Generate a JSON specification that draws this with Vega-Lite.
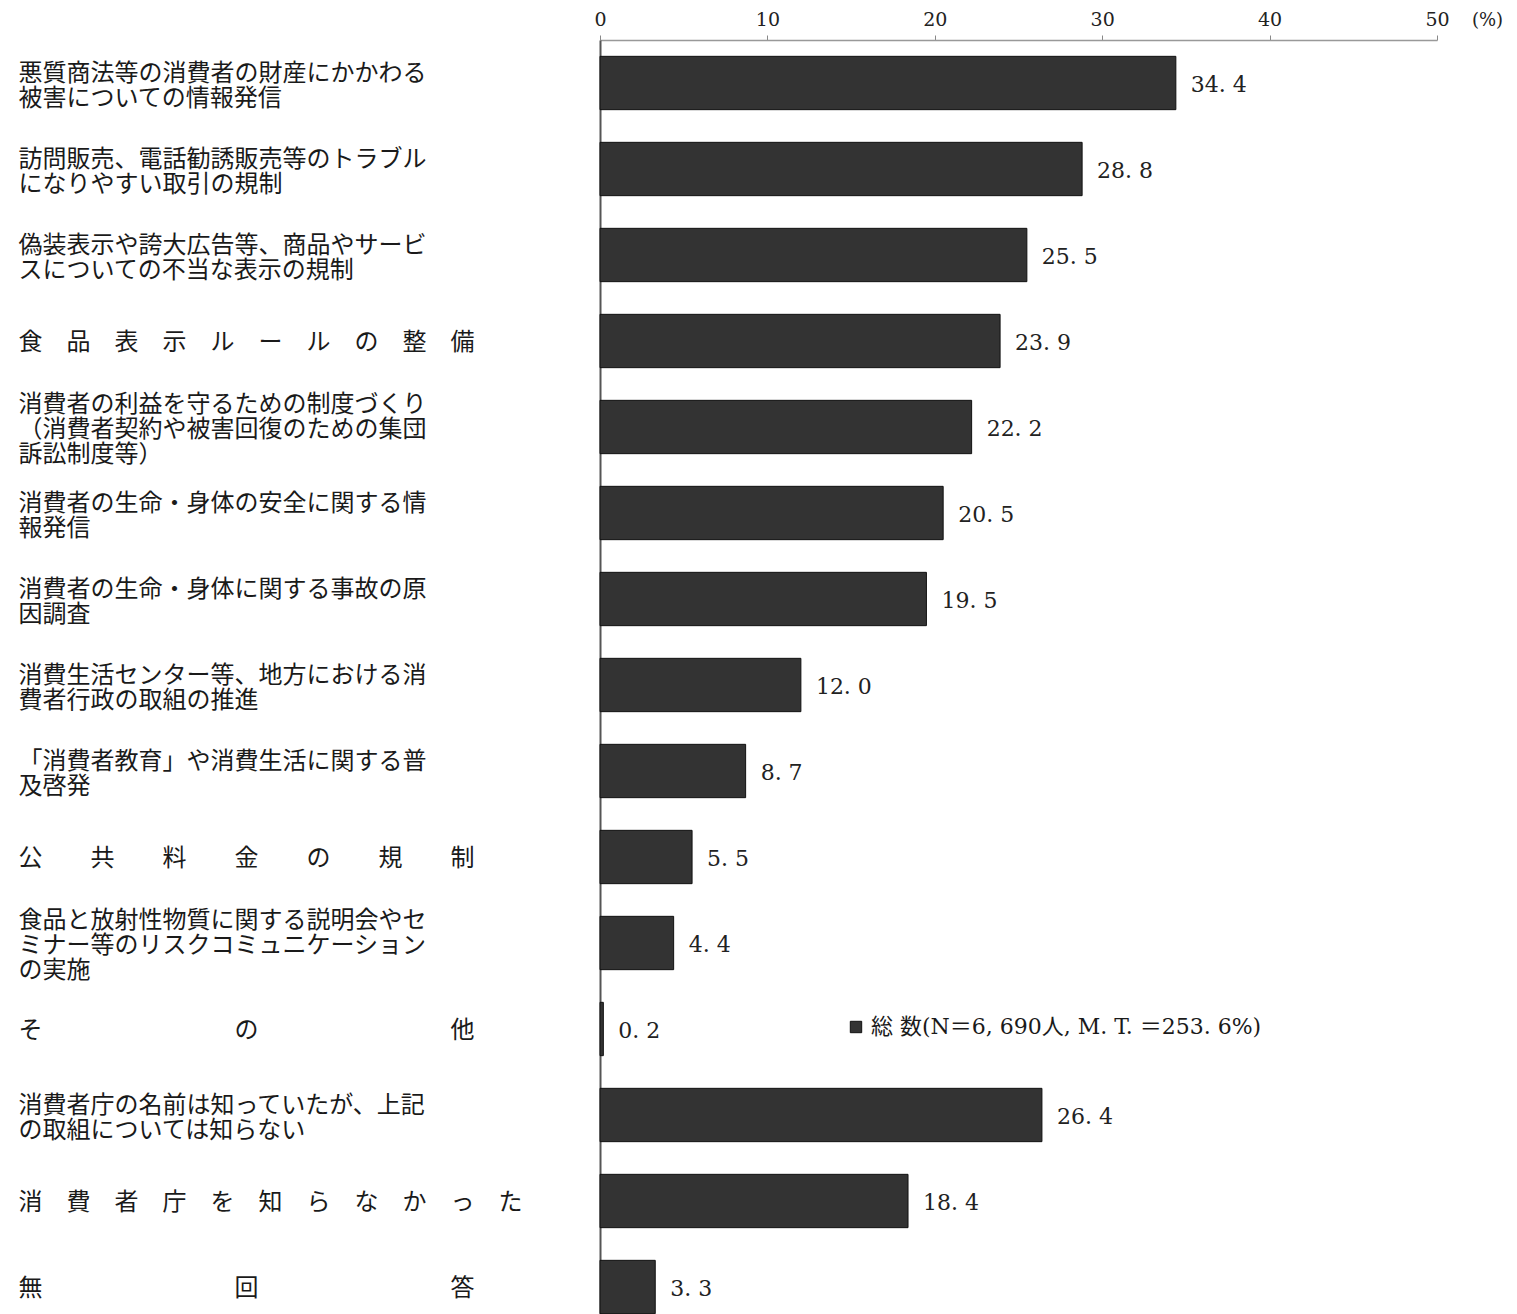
{
  "$schema": "https://vega.github.io/schema/vega-lite/v6.json",
  "autosize": {"type": "none"},
  "padding": {"left": 600, "top": 40, "right": 80, "bottom": 0},
  "width": 837,
  "height": 1290,
  "background": "#ffffff",
  "config": {"view": {"stroke": null}},
  "data": {
    "values": [
      {"item": "悪質商法等の消費者の財産にかかわる|被害についての情報発信", "value": 34.4, "label": "34. 4", "series": "総 数(N＝6, 690人, M. T. ＝253. 6%)"},
      {"item": "訪問販売、電話勧誘販売等のトラブル|になりやすい取引の規制", "value": 28.8, "label": "28. 8", "series": "総 数(N＝6, 690人, M. T. ＝253. 6%)"},
      {"item": "偽装表示や誇大広告等、商品やサービ|スについての不当な表示の規制", "value": 25.5, "label": "25. 5", "series": "総 数(N＝6, 690人, M. T. ＝253. 6%)"},
      {"item": "食　品　表　示　ル　ー　ル　の　整　備", "value": 23.9, "label": "23. 9", "series": "総 数(N＝6, 690人, M. T. ＝253. 6%)"},
      {"item": "消費者の利益を守るための制度づくり|（消費者契約や被害回復のための集団|訴訟制度等）", "value": 22.2, "label": "22. 2", "series": "総 数(N＝6, 690人, M. T. ＝253. 6%)"},
      {"item": "消費者の生命・身体の安全に関する情|報発信", "value": 20.5, "label": "20. 5", "series": "総 数(N＝6, 690人, M. T. ＝253. 6%)"},
      {"item": "消費者の生命・身体に関する事故の原|因調査", "value": 19.5, "label": "19. 5", "series": "総 数(N＝6, 690人, M. T. ＝253. 6%)"},
      {"item": "消費生活センター等、地方における消|費者行政の取組の推進", "value": 12.0, "label": "12. 0", "series": "総 数(N＝6, 690人, M. T. ＝253. 6%)"},
      {"item": "「消費者教育」や消費生活に関する普|及啓発", "value": 8.7, "label": "8. 7", "series": "総 数(N＝6, 690人, M. T. ＝253. 6%)"},
      {"item": "公　　共　　料　　金　　の　　規　　制", "value": 5.5, "label": "5. 5", "series": "総 数(N＝6, 690人, M. T. ＝253. 6%)"},
      {"item": "食品と放射性物質に関する説明会やセ|ミナー等のリスクコミュニケーション|の実施", "value": 4.4, "label": "4. 4", "series": "総 数(N＝6, 690人, M. T. ＝253. 6%)"},
      {"item": "そ　　　　　　　　の　　　　　　　　他", "value": 0.2, "label": "0. 2", "series": "総 数(N＝6, 690人, M. T. ＝253. 6%)"},
      {"item": "消費者庁の名前は知っていたが、上記|の取組については知らない", "value": 26.4, "label": "26. 4", "series": "総 数(N＝6, 690人, M. T. ＝253. 6%)"},
      {"item": "消　費　者　庁　を　知　ら　な　か　っ　た", "value": 18.4, "label": "18. 4", "series": "総 数(N＝6, 690人, M. T. ＝253. 6%)"},
      {"item": "無　　　　　　　　回　　　　　　　　答", "value": 3.3, "label": "3. 3", "series": "総 数(N＝6, 690人, M. T. ＝253. 6%)"}
    ]
  },
  "encoding": {
    "y": {
      "field": "item",
      "type": "nominal",
      "sort": null,
      "scale": {"paddingInner": 0.38, "paddingOuter": 0.19},
      "axis": {
        "title": null,
        "orient": "left",
        "ticks": false,
        "tickSize": 0,
        "labelPadding": 582,
        "labelAlign": "left",
        "labelBaseline": "middle",
        "labelLimit": 700,
        "labelFont": "Noto Sans CJK JP",
        "labelFontSize": 24,
        "labelLineHeight": 25,
        "labelColor": "#1a1a1a",
        "labelExpr": "split(datum.label, '|')",
        "labelOffset": {
          "condition": [
            {"test": "length(split(datum.label, '|')) == 3", "value": -22},
            {"test": "length(split(datum.label, '|')) == 2", "value": -9}
          ],
          "value": 2
        },
        "domainColor": "#555555",
        "domainWidth": 2
      }
    },
    "x": {
      "field": "value",
      "type": "quantitative",
      "scale": {"domain": [0, 50], "nice": false},
      "axis": {
        "orient": "top",
        "values": [0, 10, 20, 30, 40, 50],
        "grid": false,
        "labelFlush": false,
        "title": "(%)",
        "titleAngle": 0,
        "titleX": 887,
        "titleY": -20,
        "titleAlign": "center",
        "titleBaseline": "middle",
        "titleFont": "DejaVu Serif",
        "titleFontSize": 18,
        "titleFontWeight": "normal",
        "titleColor": "#222222",
        "labelFont": "DejaVu Serif",
        "labelFontSize": 19,
        "labelColor": "#222222",
        "labelPadding": 6,
        "tickSize": 5,
        "tickColor": "#888888",
        "domainColor": "#999999",
        "domainWidth": 1.5
      }
    }
  },
  "layer": [
    {
      "mark": {"type": "bar", "stroke": "#111111", "strokeWidth": 1},
      "encoding": {
        "color": {
          "field": "series",
          "type": "nominal",
          "scale": {"range": ["#333333"]},
          "legend": {
            "title": null,
            "orient": "none",
            "legendX": 245,
            "legendY": 976,
            "symbolType": "square",
            "symbolSize": 130,
            "symbolStrokeColor": "#111111",
            "symbolStrokeWidth": 1,
            "labelFont": "DejaVu Serif, Noto Sans CJK JP",
            "labelFontSize": 22,
            "labelColor": "#1a1a1a",
            "labelLimit": 700,
            "labelOffset": 4
          }
        }
      }
    },
    {
      "mark": {"type": "text", "align": "left", "baseline": "middle", "dx": 15, "dy": 2, "font": "DejaVu Serif", "fontSize": 22, "color": "#222222"},
      "encoding": {
        "text": {"field": "label", "type": "nominal"}
      }
    }
  ]
}
